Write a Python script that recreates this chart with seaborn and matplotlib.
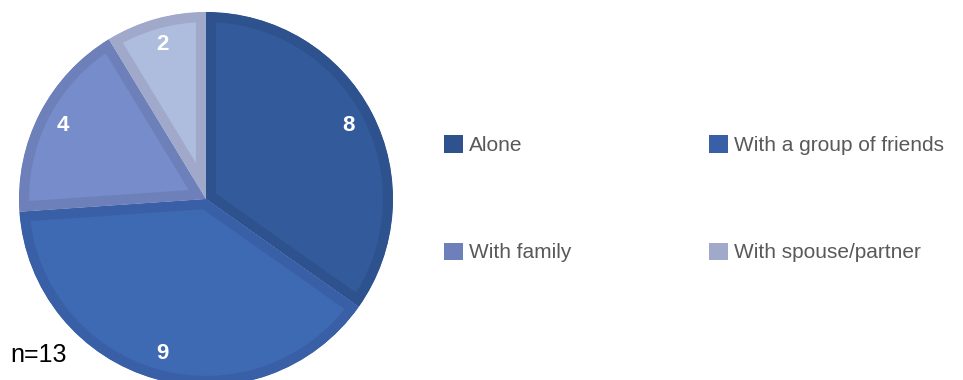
import matplotlib
matplotlib.use("Agg")
import matplotlib.pyplot as plt
import seaborn as sns
from matplotlib.patches import Patch

# Companions data
categories = ["Alone", "With a group of friends", "With family", "With spouse/partner"]
counts = [8, 9, 4, 2]
sample_note = "n=13"

fill_colors = ["#335A9A", "#3E6AB3", "#768CCB", "#AEBCDD"]
edge_colors = ["#2E528D", "#3960A6", "#6E80BA", "#A0A9CA"]

sns.set_theme(style="white")
plt.rcParams["font.family"] = ["Liberation Sans", "DejaVu Sans"]

fig = plt.figure(figsize=(9.63, 3.80), dpi=100)
fig.patch.set_facecolor("white")

# Pie axes placed in pixel terms: centre (206, 199 from top), radius 187
W, H = 963, 380
cx, cy, r = 206, H - 199, 187
ax = fig.add_axes([(cx - r) / W, (cy - r) / H, 2 * r / W, 2 * r / H])

wedges, texts = ax.pie(
    counts,
    colors=fill_colors,
    startangle=90,
    counterclock=False,
    radius=1.0,
    labels=[str(c) for c in counts],
    labeldistance=0.86,
    textprops=dict(color="white", fontsize=16, fontweight="bold",
                   ha="center", va="center"),
    wedgeprops=dict(linewidth=0),
)
ax.set_xlim(-1, 1)
ax.set_ylim(-1, 1)
ax.set_aspect("equal")
ax.axis("off")

# Inner border on each slice: a thick stroke clipped to the wedge itself
for w, ec in zip(wedges, edge_colors):
    w.set_edgecolor(ec)
    w.set_linewidth(14.5)
    w.set_clip_on(True)
    w.set_clip_path(w)

# Sample-size note
fig.text(10 / W, 1 - 362 / H, sample_note, fontsize=18, color="black",
         ha="left", va="baseline")

# Legend: two rows, two columns
handles = [Patch(facecolor=c, edgecolor="none") for c in edge_colors]
order = [0, 2, 1, 3]
leg = fig.legend(
    [handles[i] for i in order],
    [categories[i] for i in order],
    ncol=2,
    loc="upper left",
    bbox_to_anchor=(436 / W, 1 - 127 / H),
    frameon=False,
    fontsize=15,
    handlelength=0.9,
    handleheight=0.9,
    handletextpad=0.3,
    columnspacing=6.6,
    labelspacing=4.2,
    borderaxespad=0,
)
for t in leg.get_texts():
    t.set_color("#595959")

fig.savefig("out.png", dpi=100, facecolor="white")
